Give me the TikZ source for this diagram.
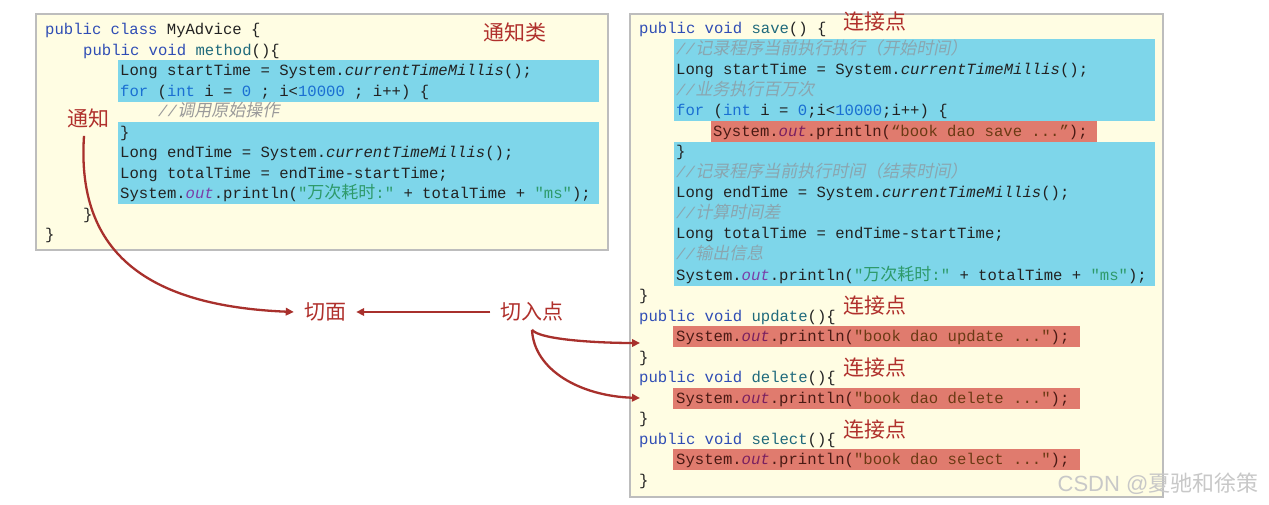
\documentclass[tikz,border=0pt]{standalone}
\usepackage{fontspec}
\setmonofont{Liberation Mono}
\newfontfamily\cjk{Noto Sans CJK SC}
\newfontfamily\cjkit[FakeSlant=0.2]{Noto Sans CJK SC}
\newfontfamily\wmfont{Liberation Sans}
\usetikzlibrary{arrows.meta}
\definecolor{creamc}{HTML}{FFFDE3}
\definecolor{borderc}{HTML}{BDBDBD}
\definecolor{hlblue}{HTML}{7ED6EA}
\definecolor{hlred}{HTML}{E07B6E}
\definecolor{redc}{HTML}{B0302C}
\definecolor{arrc}{HTML}{A8302C}
\definecolor{kwc}{HTML}{2F4DB5}
\definecolor{mtc}{HTML}{1F6A7C}
\definecolor{blc}{HTML}{1A6FD2}
\definecolor{codec}{HTML}{222222}
\definecolor{outc}{HTML}{7A3FA8}
\definecolor{strc}{HTML}{2E9A6A}
\definecolor{cmc}{HTML}{9A9A9A}
\definecolor{cmbc}{HTML}{8AA6B0}
\definecolor{rtext}{HTML}{4A1A14}
\definecolor{rout}{HTML}{7A2060}
\definecolor{rstr}{HTML}{6B3A14}
\definecolor{wmc}{HTML}{C8C8C8}
\newcommand\K[1]{\textcolor{kwc}{#1}}
\newcommand\Mt[1]{\textcolor{mtc}{#1}}
\newcommand\Bl[1]{\textcolor{blc}{#1}}
\newcommand\It[1]{\textit{#1}}
\newcommand\Out[1]{\textcolor{outc}{\textit{#1}}}
\newcommand\Str[1]{\textcolor{strc}{#1}}
\newcommand\Zh[1]{{\cjk\fontsize{17}{17}\selectfont #1}}
\newcommand\Cm[1]{\textcolor{cmc}{\textit{//}{\cjkit\fontsize{17}{17}\selectfont #1}}}
\newcommand\Cmb[1]{\textcolor{cmbc}{\textit{//}{\cjkit\fontsize{17}{17}\selectfont #1}}}
\newcommand\Rline[1]{\textcolor{rtext}{System.\textcolor{rout}{\textit{out}}.println(\textcolor{rstr}{#1});}}
\tikzset{
  code/.style={anchor=base west, inner sep=0pt, font=\ttfamily\fontsize{15.6}{18}\selectfont, text=codec},
  lbl/.style={font=\cjk\fontsize{21}{21}\selectfont, text=redc, inner sep=0pt},
  panel/.style={draw=borderc, line width=1.5pt, fill=creamc},
  blueb/.style={fill=hlblue, draw=none},
  redb/.style={fill=hlred, draw=none},
  arr/.style={draw=arrc, line width=2.3pt, -{Triangle[length=8pt,width=7.5pt]}}
}
\begin{document}
\begin{tikzpicture}[x=1pt,y=-1pt]
\useasboundingbox (0,0) rectangle (1269,505);
\fill[white] (0,0) rectangle (1269,505);
% panels
\draw[panel] (36,14) rectangle (608,250);
\draw[panel] (630,14) rectangle (1163,497);
% left highlights
\fill[blueb] (118,60.5) rectangle (599,102);
\fill[blueb] (118,122) rectangle (599,204.5);
% right highlights
\fill[blueb] (674,39) rectangle (1155,121);
\fill[blueb] (674,142) rectangle (1155,285.5);
\fill[redb] (711,121) rectangle (1097,142);
\fill[redb] (673,326) rectangle (1080,347);
\fill[redb] (673,387.5) rectangle (1080,408.5);
\fill[redb] (673,449) rectangle (1080,470);
% left code
\node[code] (l1) at (45,35) {\K{public class} MyAdvice \{};
\node[code] (l2) at (83,55.5) {\K{public void} \Mt{method}()\{};
\node[code] (l3) at (120,76) {Long startTime = System.\It{currentTimeMillis}();};
\node[code] (l4) at (120,96.5) {\Bl{for} (\Bl{int} i = \Bl{0} ; i<\Bl{10000} ; i++) \{};
\node[code] (l5) at (158,117) {\Cm{调用原始操作}};
\node[code] (l6) at (120,137.5) {\}};
\node[code] (l7) at (120,158) {Long endTime = System.\It{currentTimeMillis}();};
\node[code] (l8) at (120,178.5) {Long totalTime = endTime-startTime;};
\node[code] (l9) at (120,199) {System.\Out{out}.println(\Str{"\Zh{万次耗时}:"} + totalTime + \Str{"ms"});};
\node[code] (l10) at (83,219.5) {\}};
\node[code] (l11) at (45,240) {\}};
% right code
\node[code] (r0) at (639,34) {\K{public void} \Mt{save}() \{};
\node[code] (r1) at (676,54.5) {\Cmb{记录程序当前执行执行（开始时间）}};
\node[code] (r2) at (676,75) {Long startTime = System.\It{currentTimeMillis}();};
\node[code] (r3) at (676,95.5) {\Cmb{业务执行百万次}};
\node[code] (r4) at (676,116) {\Bl{for} (\Bl{int} i = \Bl{0};i<\Bl{10000};i++) \{};
\node[code] (r5) at (713,136.5) {\Rline{“book dao save ...”}};
\node[code] (r6) at (676,157) {\}};
\node[code] (r7) at (676,177.5) {\Cmb{记录程序当前执行时间（结束时间）}};
\node[code] (r8) at (676,198) {Long endTime = System.\It{currentTimeMillis}();};
\node[code] (r9) at (676,218.5) {\Cmb{计算时间差}};
\node[code] (r10) at (676,239) {Long totalTime = endTime-startTime;};
\node[code] (r11) at (676,259.5) {\Cmb{输出信息}};
\node[code] (r12) at (676,280) {System.\Out{out}.println(\Str{"\Zh{万次耗时}:"} + totalTime + \Str{"ms"});};
\node[code] (r13) at (639,300.5) {\}};
\node[code] (r14) at (639,321) {\K{public void} \Mt{update}()\{};
\node[code] (r15) at (676,341.5) {\Rline{"book dao update ..."}};
\node[code] (r16) at (639,362) {\}};
\node[code] (r17) at (639,382.5) {\K{public void} \Mt{delete}()\{};
\node[code] (r18) at (676,403) {\Rline{"book dao delete ..."}};
\node[code] (r19) at (639,423.5) {\}};
\node[code] (r20) at (639,444) {\K{public void} \Mt{select}()\{};
\node[code] (r21) at (676,464.5) {\Rline{"book dao select ..."}};
\node[code] (r22) at (639,485) {\}};
% labels
\node[lbl] (tzl) at (515,33) {通知类};
\node[lbl] (lj1) at (875,22) {连接点};
\node[lbl] (lj2) at (875,306) {连接点};
\node[lbl] (lj3) at (875,368) {连接点};
\node[lbl] (lj4) at (875,430) {连接点};
\node[lbl] (tz) at (88,118) {通知};
\node[lbl] (qm) at (325,312) {切面};
\node[lbl] (qrd) at (532,312) {切入点};
\coordinate (upd) at (640,343);
\coordinate (del) at (640,398);
% connectors
\draw[arr] ([xshift=-4pt,yshift=-8pt]tz.south) .. controls (76,255) and (150,306) .. ([xshift=-10pt]qm.west);
\draw[arr] ([xshift=-10pt]qrd.west) -- ([xshift=10pt]qm.east);
\draw[arr] ([yshift=-8pt]qrd.south) .. controls (540,340) and (600,343) .. (upd);
\draw[arr] ([yshift=-8pt]qrd.south) .. controls (534,370) and (580,396) .. (del);
% watermark
\node[text=wmc, inner sep=0pt] (wm) at (1158,484) {{\wmfont\fontsize{22}{22}\selectfont CSDN @}{\cjk\fontsize{22}{22}\selectfont 夏驰和徐策}};
\end{tikzpicture}
\end{document}
